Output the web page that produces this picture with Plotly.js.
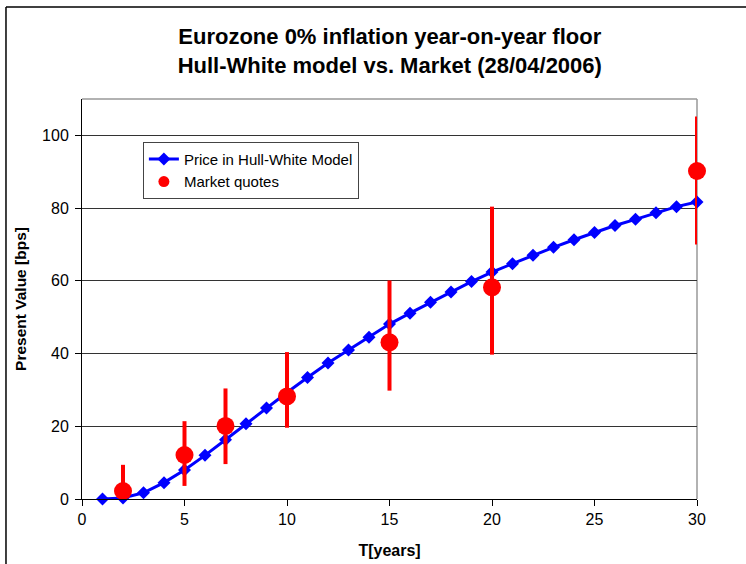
<!DOCTYPE html>
<html>
<head>
<meta charset="utf-8">
<script src="https://cdn.plot.ly/plotly-3.0.1.min.js"></script>
<style>html,body{margin:0;padding:0;background:#fff;}#chart{width:746px;height:564px;}</style>
</head>
<body>
<div id="chart"></div>
<script>
// Hull-White model prices by maturity (years)
const modelT = [1,2,3,4,5,6,7,8,9,10,11,12,13,14,15,16,17,18,19,20,21,22,23,24,25,26,27,28,29,30];
const modelPrice = [0.0,0.3,1.7,4.5,8.0,12.0,16.3,20.7,25.0,29.3,33.4,37.4,41.0,44.5,48.1,51.1,54.1,56.9,59.8,62.4,64.7,67.0,69.2,71.3,73.3,75.2,76.9,78.7,80.4,81.7];
// Market quotes with bid/ask range
const marketT = [2,5,7,10,15,20,30];
const marketMid = [2.2,12.1,20.1,28.2,43.1,58.2,90.2];
const marketHigh = [9.4,21.4,30.4,40.4,60.1,80.4,105.2];
const marketLow = [0.0,3.6,9.6,19.6,29.8,39.7,70.0];

const plus = marketHigh.map((h,i)=>h-marketMid[i]);
const minus = marketMid.map((m,i)=>m-marketLow[i]);

const font = "Liberation Sans, Arial, sans-serif";

const traces = [
  {
    x: modelT, y: modelPrice, type: 'scatter', mode: 'lines+markers',
    name: 'Price in Hull-White Model', legendgroup: 'a',
    line: {color: '#0000ff', width: 3},
    marker: {symbol: 'diamond', size: 10, color: '#0000ff'},
    cliponaxis: false
  },
  {
    x: marketT, y: marketMid, type: 'scatter', mode: 'markers',
    name: 'Market quotes', showlegend: false,
    marker: {symbol: 'circle', size: 18, color: '#ff0000'},
    error_y: {type: 'data', symmetric: false, array: plus, arrayminus: minus,
              color: '#ff0000', thickness: 4, width: 0},
    cliponaxis: false
  },
  {
    x: [null], y: [null], type: 'scatter', mode: 'markers',
    name: 'Market quotes', legendgroup: 'b',
    marker: {symbol: 'circle', size: 11, color: '#ff0000'}
  }
];

const layout = {
  width: 746, height: 564,
  paper_bgcolor: '#fff', plot_bgcolor: '#fff',
  margin: {l: 82, r: 49, t: 99, b: 65},
  font: {family: font, size: 16, color: '#000'},
  title: {
    text: '<b>Eurozone 0% inflation year-on-year floor<br>Hull-White model vs. Market (28/04/2006)</b>',
    font: {family: font, size: 22, color: '#000'},
    x: 0.5225, xanchor: 'center', y: 0.922, yanchor: 'middle'
  },
  showlegend: true,
  legend: {
    x: 0.099, y: 0.893, xanchor: 'left', yanchor: 'top',
    bgcolor: '#fff', bordercolor: '#444', borderwidth: 1,
    font: {family: font, size: 15, color: '#000'},
    traceorder: 'grouped', tracegroupgap: 0, itemwidth: 30
  },
  xaxis: {
    range: [0, 30], tickvals: [0,5,10,15,20,25,30],
    showgrid: false, zeroline: false,
    showline: true, linecolor: '#000', linewidth: 1,
    ticks: 'outside', ticklen: 6, tickcolor: '#000',
    tickfont: {family: font, size: 16},
    title: {text: '<b>T[years]</b>', font: {family: font, size: 16}, standoff: 17}
  },
  yaxis: {
    range: [0, 110], tickvals: [0,20,40,60,80,100],
    showgrid: true, gridcolor: '#333', gridwidth: 1,
    zeroline: false,
    showline: true, linecolor: '#000', linewidth: 1,
    ticks: 'outside', ticklen: 6, tickcolor: '#000',
    ticklabelstandoff: 3,
    tickfont: {family: font, size: 16},
    title: {text: '<b>Present Value [bps]</b>', font: {family: font, size: 15.5}, standoff: 11}
  },
  shapes: [
    {type: 'line', xref: 'paper', yref: 'paper', x0: 0, x1: 1, y0: 1, y1: 1, line: {color: '#999', width: 1.5}},
    {type: 'line', xref: 'paper', yref: 'paper', x0: 1, x1: 1, y0: 0, y1: 1, line: {color: '#999', width: 1.5}, layer: 'below'},
    {type: 'line', xref: 'paper', yref: 'paper', x0: -0.1236, x1: -0.1236, y0: -0.2, y1: 1.23, line: {color: '#000', width: 1.5}},
    {type: 'line', xref: 'paper', yref: 'paper', x0: -0.1236, x1: 1.2, y0: 1.23, y1: 1.23, line: {color: '#000', width: 1.5}}
  ]
};

Plotly.newPlot('chart', traces, layout, {displayModeBar: false, staticPlot: true});
</script>
</body>
</html>
